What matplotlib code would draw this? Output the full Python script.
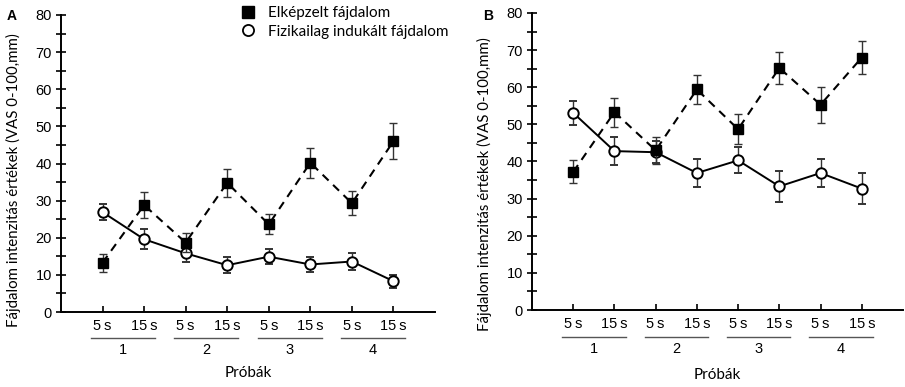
import matplotlib
matplotlib.use("Agg")
import matplotlib.pyplot as plt
from matplotlib.lines import Line2D
from matplotlib.ticker import MultipleLocator
import matplotlib.transforms as mtransforms

# ---- data ----
positions = [1, 2, 3, 4, 5, 6, 7, 8]
time_labels = ["5\u2009s", "15\u2009s", "5\u2009s", "15\u2009s", "5\u2009s", "15\u2009s", "5\u2009s", "15\u2009s"]
trial_labels = ["1", "2", "3", "4"]

a_imagined = [13.3, 28.8, 18.7, 34.8, 23.6, 40.2, 29.3, 46.0]
a_imagined_err = [2.4, 3.5, 2.5, 3.7, 2.7, 4.0, 3.3, 4.9]
a_physical = [26.9, 19.6, 15.8, 12.6, 14.9, 12.8, 13.6, 8.3]
a_physical_err = [2.1, 2.7, 2.2, 2.1, 2.1, 2.1, 2.2, 1.8]

b_imagined = [37.2, 53.3, 43.0, 59.4, 48.7, 65.2, 55.3, 68.0]
b_imagined_err = [3.1, 3.9, 3.7, 3.9, 4.0, 4.3, 4.8, 4.4]
b_physical = [53.1, 42.8, 42.5, 36.9, 40.3, 33.3, 36.9, 32.7]
b_physical_err = [3.2, 3.7, 3.0, 3.9, 3.5, 4.1, 3.7, 4.2]

legend_labels = ["Elképzelt fájdalom", "Fizikailag indukált fájdalom"]
ylabel = "Fájdalom intenzitás értékek (VAS 0-100,mm)"
xlabel = "Próbák"
panel_labels = ["A", "B"]

TXT_FONT = ["Lato", "DejaVu Sans"]
NUM_FONT = ["Liberation Sans", "DejaVu Sans"]

fig = plt.figure(figsize=(9.05, 3.87), dpi=100)
axA = fig.add_axes([61 / 905, 75 / 387, 374 / 905, 297 / 387])
axB = fig.add_axes([532 / 905, 77 / 387, 371 / 905, 297 / 387])


def draw(ax, imag, imag_err, phys, phys_err, lab_y, num_y, xl_y, yl_y):
    ax.errorbar(positions, phys, yerr=phys_err, color="black", ecolor="#333333",
                elinewidth=1.0, capsize=2.8, capthick=1.0, linestyle="-",
                linewidth=1.4, marker="o", markersize=7.5, markerfacecolor="white",
                markeredgecolor="black", markeredgewidth=1.4, zorder=3)
    ax.errorbar(positions, imag, yerr=imag_err, color="black", ecolor="#333333",
                elinewidth=1.0, capsize=2.8, capthick=1.0, linestyle=(0, (4, 3)),
                linewidth=1.5, marker="s", markersize=7, markerfacecolor="black",
                markeredgecolor="black", zorder=4)
    ax.set_xlim(0, 9)
    ax.set_ylim(0, 80)
    for s in ["top", "right"]:
        ax.spines[s].set_visible(False)
    for s in ["left", "bottom"]:
        ax.spines[s].set_linewidth(1.4)
    ax.yaxis.set_major_locator(MultipleLocator(10))
    ax.yaxis.set_minor_locator(MultipleLocator(5))
    ax.tick_params(axis="y", which="both", direction="inout", length=7, width=1.2,
                   labelsize=10.5, pad=3)
    for t in ax.get_yticklabels():
        t.set_family(NUM_FONT)
    ax.set_xticks(positions)
    ax.set_xticklabels([])
    ax.tick_params(axis="x", direction="in", length=4, width=1.2)

    trans = mtransforms.blended_transform_factory(ax.transData, ax.transAxes)
    for p, t in zip(positions, time_labels):
        ax.text(p, num_y, t, transform=trans, ha="center", va="center",
                fontsize=10.5, family=NUM_FONT)
    for i, g in enumerate(trial_labels):
        x0 = positions[2 * i] - 0.27
        x1 = positions[2 * i + 1] + 0.27
        ax.plot([x0, x1], [lab_y, lab_y], transform=trans, color="#555555",
                linewidth=1.0, clip_on=False)
        ax.text((x0 + x1) / 2, lab_y - 0.04, g, transform=trans, ha="center",
                va="center", fontsize=10.5, family=NUM_FONT)
    ax.text(4.5, xl_y, xlabel, transform=trans, ha="center", va="center",
            fontsize=11, family=TXT_FONT)
    ax.text(-0.128, yl_y, ylabel, transform=ax.transAxes, rotation=90,
            ha="center", va="center", fontsize=10.8, family=TXT_FONT)


draw(axA, a_imagined, a_imagined_err, a_physical, a_physical_err, -0.0875, -0.047, -0.205, 0.445)
draw(axB, b_imagined, b_imagined_err, b_physical, b_physical_err, -0.091, -0.047, -0.219, 0.425)

fig.text(12 / 905, 1 - 16 / 387, panel_labels[0], fontsize=10, fontweight="bold",
         ha="center", va="center", family=NUM_FONT)
fig.text(488 / 905, 1 - 16 / 387, panel_labels[1], fontsize=10, fontweight="bold",
         ha="center", va="center", family=NUM_FONT)

handles = [
    Line2D([], [], linestyle="none", marker="s", markersize=8.5,
           markerfacecolor="black", markeredgecolor="black"),
    Line2D([], [], linestyle="none", marker="o", markersize=8,
           markerfacecolor="white", markeredgecolor="black", markeredgewidth=1.3),
]
fig.legend(handles, legend_labels, loc="upper left",
           bbox_to_anchor=(240.4 / 905, 1 - 6 / 387), frameon=False,
           borderpad=0, borderaxespad=0, handlelength=1.0, handletextpad=0.8,
           labelspacing=0.3, prop={"family": TXT_FONT, "size": 11})

fig.savefig("out.png", dpi=100)
